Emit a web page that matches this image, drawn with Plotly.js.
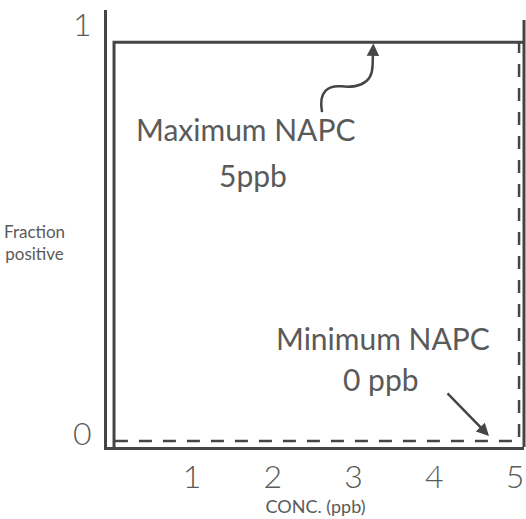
<!DOCTYPE html>
<html>
<head>
<meta charset="utf-8">
<script src="https://cdn.plot.ly/plotly-3.0.1.min.js"></script>
<style>html,body{margin:0;padding:0;background:#fff;}#chart{width:526px;height:519px;}</style>
</head>
<body>
<div id="chart"></div>
<script>
// Maximum NAPC (5 ppb) curve - solid
var maxConc = [0.034, 0.034, 5.13];
var maxFrac = [-0.032, 0.958, 0.958];
// Minimum NAPC (0 ppb) curve - dashed
var minConc = [0.045, 5.05, 5.05];
var minFrac = [-0.017, -0.017, 0.958];
// tick labels
var xTickVals = [1, 2, 3, 4, 5];
var xTickText = ['1', '2', '3', '4', '5'];
var yTickVals = [0, 1];
var yTickText = ['0', '1'];

var lineCol = '#454545';
var textCol = '#5a5a5a';
var fontFam = 'Lato, "Open Sans", sans-serif';

var traces = [
  {x: maxConc, y: maxFrac, mode: 'lines', line: {color: lineCol, width: 3}, hoverinfo: 'skip'},
  {x: minConc, y: minFrac, mode: 'lines', line: {color: lineCol, width: 2.5, dash: '13px,11px'}, hoverinfo: 'skip'}
];

function f(size, w) { return {size: size, color: textCol, family: fontFam, weight: w || 400}; }

var layout = {
  width: 526, height: 519,
  margin: {l: 107, r: 2, t: 10, b: 72},
  paper_bgcolor: '#ffffff', plot_bgcolor: '#ffffff',
  showlegend: false,
  font: {family: fontFam, color: textCol},
  xaxis: {
    range: [-0.053, 5.111], showgrid: false, zeroline: false,
    showline: true, linecolor: lineCol, linewidth: 3,
    tickvals: xTickVals, ticktext: xTickText, ticks: '',
    tickfont: f(32, 300),
    ticklabelstandoff: 0,
    title: {text: 'CONC. (ppb)', font: f(18), standoff: 4}
  },
  yaxis: {
    range: [-0.0318, 1.0367], showgrid: false, zeroline: false,
    showline: true, linecolor: lineCol, linewidth: 3,
    tickvals: yTickVals, ticktext: yTickText, ticks: '',
    tickfont: f(32, 300),
    ticklabelstandoff: 6
  },
  shapes: [
    {type: 'line', xref: 'paper', yref: 'paper', x0: 1, x1: 1, y0: 0, y1: 0.977,
     line: {color: lineCol, width: 3}},
    {type: 'path', xref: 'x', yref: 'y',
     path: 'M 2.610 0.787 C 2.56 0.84, 2.70 0.853, 2.85 0.850 S 3.23 0.85, 3.235 0.90',
     line: {color: lineCol, width: 2.5}}
  ],
  annotations: [
    {xref: 'x', yref: 'y', axref: 'x', ayref: 'y', x: 3.245, y: 0.955, ax: 3.235, ay: 0.895,
     text: '', showarrow: true, arrowhead: 2, arrowsize: 1, arrowwidth: 2.5, arrowcolor: lineCol},
    {xref: 'x', yref: 'y', axref: 'x', ayref: 'y', x: 4.678, y: -0.005, ax: 4.146, ay: 0.103,
     text: '', showarrow: true, arrowhead: 2, arrowsize: 1, arrowwidth: 2.5, arrowcolor: lineCol},
    {xref: 'x', yref: 'y', x: 1.656, y: 0.746, text: 'Maximum NAPC', showarrow: false, font: f(30)},
    {xref: 'x', yref: 'y', x: 1.755, y: 0.633, text: '5ppb', showarrow: false, font: f(30)},
    {xref: 'x', yref: 'y', x: 3.365, y: 0.235, text: 'Minimum NAPC', showarrow: false, font: f(30)},
    {xref: 'x', yref: 'y', x: 3.341, y: 0.134, text: '0 ppb', showarrow: false, font: f(30)},
    {xref: 'paper', yref: 'paper', x: -0.175, y: 0.467, xanchor: 'center', yanchor: 'middle',
     text: 'Fraction<br>positive', showarrow: false, align: 'center', font: f(17)}
  ]
};

Plotly.newPlot('chart', traces, layout, {displayModeBar: false, staticPlot: true});
</script>
</body>
</html>
